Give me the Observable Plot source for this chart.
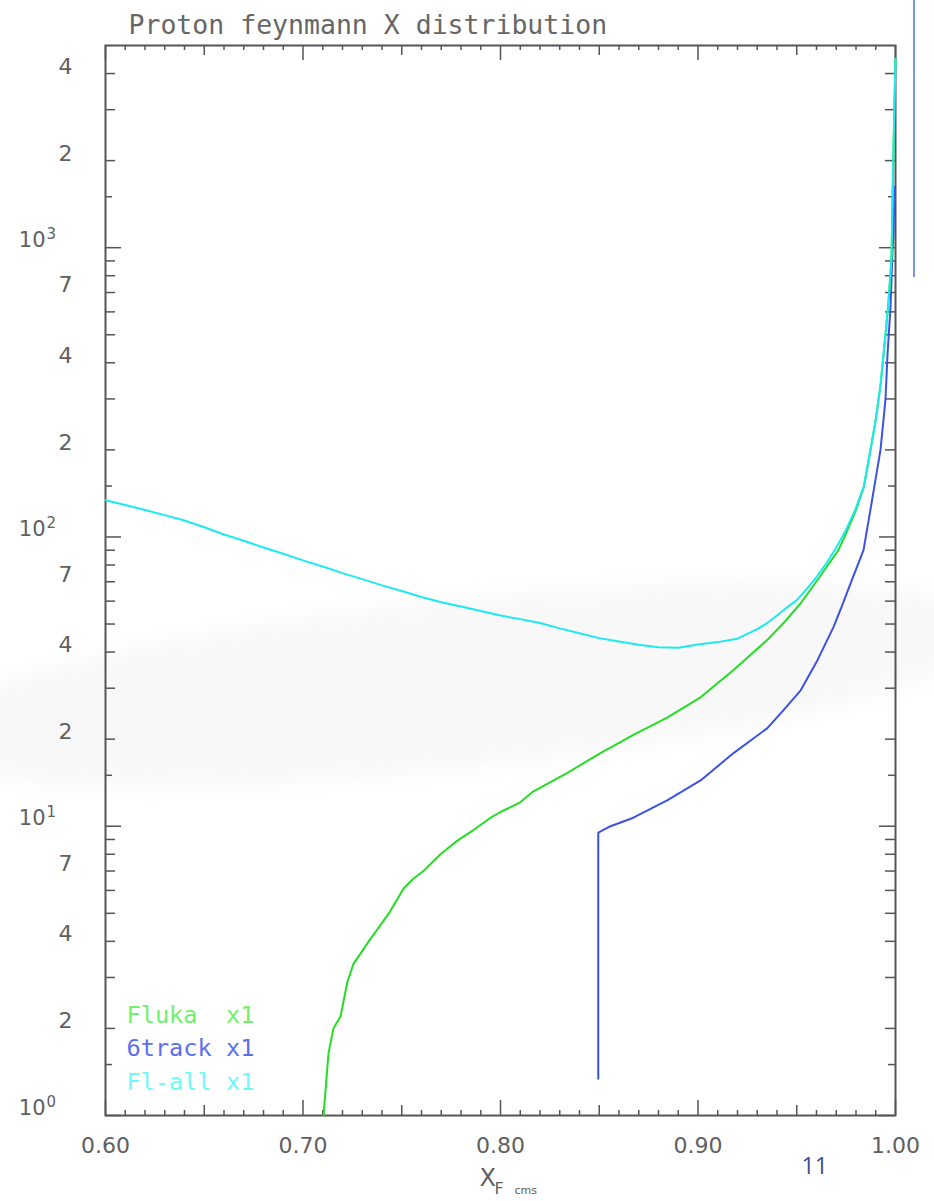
<!DOCTYPE html>
<html><head><meta charset="utf-8">
<script src="https://cdn.jsdelivr.net/npm/d3@7"></script>
<script src="https://cdn.jsdelivr.net/npm/@observablehq/plot@0.6"></script>
<style>
html,body{margin:0;padding:0;background:#fff;}
#wrap{position:relative;width:934px;height:1201px;overflow:hidden;}
#wrap svg{position:absolute;left:0;top:0;}
#wrap svg text{white-space:pre;}
#deco{position:absolute;left:913px;top:0;width:2px;height:277px;background:#7b93ee;}
#swoosh{position:absolute;left:-100px;top:600px;width:1100px;height:170px;border-radius:50%;background:#f8f8f8;transform:rotate(-6deg);filter:blur(10px);}
</style></head><body>
<div id="wrap"><div id="swoosh"></div><div id="deco"></div></div>
<script>
// ---- data ----
const flallX = [0.600,0.610,0.620,0.630,0.640,0.650,0.660,0.670,0.680,0.690,0.700,0.710,0.720,0.730,0.740,0.750,0.760,0.770,0.780,0.790,0.800,0.810,0.820,0.830,0.840,0.850,0.860,0.870,0.880,0.890,0.900,0.910,0.920,0.930,0.935,0.940,0.945,0.950,0.955,0.960,0.965,0.970,0.975,0.980,0.984,0.987,0.990,0.9925,0.995,0.9965,0.998,0.9985,0.999,0.9995,1.000];
const flallY = [134,129,124,119,114,108,102,97,92,87.5,83,79,75,71.5,68,65,62,59.5,57.5,55.5,53.5,52,50.4,48.3,46.5,44.7,43.5,42.4,41.6,41.4,42.5,43.3,44.5,48,50.4,53.5,57,60.5,66,72.7,81,92,106,126,150,195,255,340,510,660,930,1500,2200,3200,4500];

const flukaX = [0.7104,0.7129,0.7154,0.719,0.7225,0.7256,0.730,0.7327,0.7377,0.7443,0.751,0.756,0.761,0.7696,0.778,0.7863,0.795,0.800,0.810,0.8167,0.8339,0.8506,0.8673,0.8846,0.9013,0.918,0.935,0.9433,0.952,0.9605,0.9711,0.975,0.980,0.984,0.987,0.990,0.9925,0.995,0.9965,0.998,0.9985,0.999,0.9995,1.000];
const flukaY = [1.0,1.64,2.0,2.2,2.9,3.35,3.7,3.95,4.4,5.1,6.1,6.6,7.0,8.0,8.9,9.7,10.7,11.2,12.1,13.2,15.3,17.9,20.7,23.8,27.9,34.7,44,50.4,59,71,90,103,124,149,194,254,338,505,655,925,1490,2190,3180,4480];

const sixtrackX = [0.8495,0.8495,0.8557,0.8673,0.8846,0.9013,0.918,0.935,0.9433,0.952,0.9605,0.9686,0.9730,0.9772,0.9838,0.9873,0.9924,0.9949,0.996,0.9975,0.9985,0.999,0.9995];
const sixtrackY = [1.34,9.5,10.0,10.7,12.3,14.4,17.9,21.8,25.2,29.5,37.5,48.8,58,69,90,124,200,297,433,625,990,1100,1620];

const legendLabels = ["Fluka  x1", "6track x1", "Fl-all x1"];
const titleText = "Proton feynmann X distribution";
const xTickLabels = [0.60, 0.70, 0.80, 0.90, 1.00];
const yDecades = [1, 10, 100, 1000];
const yDigitLabels = [2, 4, 7, 20, 40, 70, 200, 400, 700, 2000, 4000];
const yMinorTicks = [1.5,2,3,4,5,6,7,8,9, 15,20,30,40,50,60,70,80,90, 150,200,300,400,500,600,700,800,900, 1500,2000,3000,4000];
const yHalfTicks = yMinorTicks.filter(v => Math.abs(v / Math.pow(10, Math.floor(Math.log10(v))) - 1.5) < 1e-9);
const yMidTicks = yMinorTicks.filter(v => !yHalfTicks.includes(v));
const xMajorTicks = [0.60, 0.70, 0.80, 0.90, 1.00];
const xMediumTicks = [0.65, 0.75, 0.85, 0.95];
const xMinorTicks = d3.range(60, 101).filter(i => i % 5 !== 0).map(i => i / 100);

// ---- layout ----
const W = 934, H = 1201, mL = 105, mR = 39, mT = 45, mB = 86;
const pw = W - mL - mR, ph = H - mT - mB;
const axisColor = "#555";
const colGreen = "#25dd25", colBlue = "#3b52e2", colCyan = "#1ce9f0";
const legendColors = ["#6ef06e", "#5b6ff0", "#6ff8f8"];

const rows = (xs, ys) => xs.map((x, i) => ({x, y: ys[i]}));
const fluka = rows(flukaX, flukaY);
const sixtrack = rows(sixtrackX, sixtrackY);
const flall = rows(flallX, flallY);

const tickStyle = {stroke: axisColor, strokeWidth: 1.5};
const xt = (vals, len) => [
  Plot.tickX(vals, {x: d => d, insetTop: ph - len, ...tickStyle}),
  Plot.tickX(vals, {x: d => d, insetBottom: ph - len, ...tickStyle})
];
const yt = (vals, len) => [
  Plot.tickY(vals, {y: d => d, insetRight: pw - len, ...tickStyle}),
  Plot.tickY(vals, {y: d => d, insetLeft: pw - len, ...tickStyle})
];

const labelFont = {fontFamily: "DejaVu Sans", fill: "#606060"};

const marks = [
  Plot.frame({stroke: axisColor, strokeWidth: 2}),
  ...xt(xMajorTicks, 15), ...xt(xMediumTicks, 10), ...xt(xMinorTicks, 5),
  ...yt(yDecades, 16), ...yt(yMidTicks, 10), ...yt(yHalfTicks, 7),
  // series
  Plot.line(sixtrack, {x: "x", y: "y", stroke: colBlue, strokeWidth: 2}),
  Plot.line(fluka, {x: "x", y: "y", stroke: colGreen, strokeWidth: 2}),
  Plot.line(flall, {x: "x", y: "y", stroke: colCyan, strokeWidth: 2}),
  // y labels
  Plot.text(yDigitLabels, {y: d => d, text: d => String(d / Math.pow(10, Math.floor(Math.log10(d) + 1e-9))), frameAnchor: "left", textAnchor: "end", lineAnchor: "bottom", dx: -33, fontSize: 22, ...labelFont}),
  Plot.text(yDecades, {y: d => d, text: () => "10", frameAnchor: "left", textAnchor: "end", lineAnchor: "bottom", dx: -60, dy: -1, fontSize: 21, ...labelFont}),
  Plot.text(yDecades, {y: d => d, text: d => String(Math.round(Math.log10(d))), frameAnchor: "left", textAnchor: "start", lineAnchor: "bottom", dx: -59, dy: -9, fontSize: 15, ...labelFont}),
  // x labels
  Plot.text(xTickLabels, {x: d => d, text: d => d.toFixed(2), frameAnchor: "bottom", textAnchor: "middle", lineAnchor: "bottom", dy: 37, fontSize: 22, ...labelFont}),
  Plot.text(["X"], {frameAnchor: "bottom-left", text: d => d, textAnchor: "start", lineAnchor: "bottom", dx: 374, dy: 70, fontSize: 24, ...labelFont}),
  Plot.text(["F"], {frameAnchor: "bottom-left", text: d => d, textAnchor: "start", lineAnchor: "bottom", dx: 389, dy: 78, fontSize: 16, ...labelFont}),
  Plot.text(["cms"], {frameAnchor: "bottom-left", text: d => d, textAnchor: "start", lineAnchor: "bottom", dx: 409, dy: 78, fontSize: 11, ...labelFont}),
  // title
  Plot.text([titleText], {frameAnchor: "top-left", text: d => d, textAnchor: "start", lineAnchor: "bottom", dx: 23, dy: -12, fontSize: 26.5, fontFamily: "DejaVu Sans Mono", fill: "#666"}),
  // legend
  ...legendLabels.map((t, i) => Plot.text([t], {frameAnchor: "bottom-left", text: d => d, textAnchor: "start", lineAnchor: "bottom", dx: 21, dy: -93 + i * 33.5, fontSize: 23.6, fontFamily: "DejaVu Sans Mono", fill: legendColors[i]})),
  // page number
  Plot.text(["11"], {frameAnchor: "bottom-right", text: d => d, textAnchor: "start", lineAnchor: "bottom", dx: -94, dy: 58, fontSize: 23, fontFamily: "Open Sans", fill: "#3f4b9c"})
];

const plot = Plot.plot({
  width: W, height: H,
  marginLeft: mL, marginRight: mR, marginTop: mT, marginBottom: mB,
  x: {domain: [0.6, 1.0], axis: null},
  y: {type: "log", domain: [1, 5000], axis: null},
  style: {background: "transparent", fontFamily: "DejaVu Sans"},
  marks
});
document.getElementById("wrap").appendChild(plot);
</script>
</body></html>
